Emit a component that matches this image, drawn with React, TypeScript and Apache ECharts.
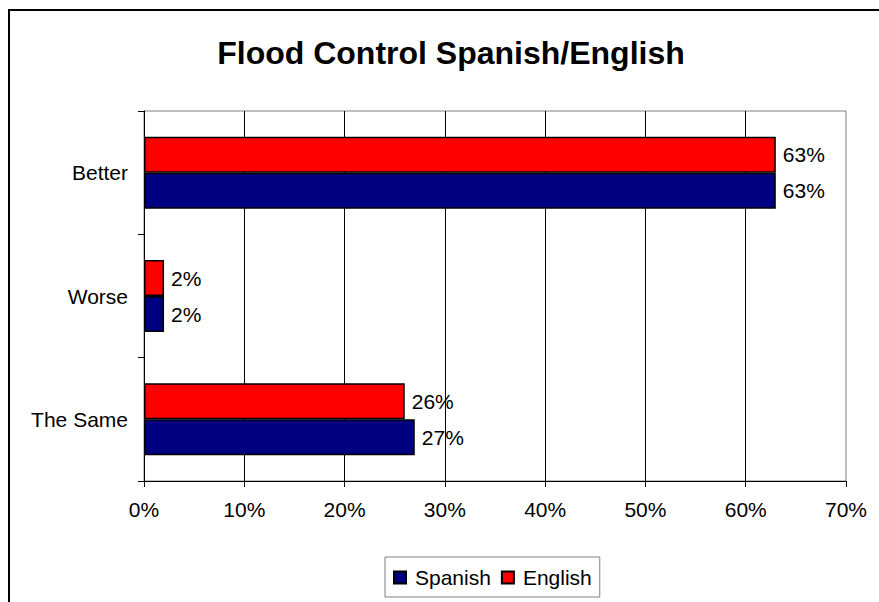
import React, { useEffect, useRef } from "react";
import * as echarts from "echarts";

const categories = ["Better", "Worse", "The Same"];
const spanishValues = [63, 2, 27];
const englishValues = [63, 2, 26];
const xTicks = [0, 10, 20, 30, 40, 50, 60, 70];

const FONT = "'Liberation Sans', Arial, sans-serif";

export default function App() {
  const ref = useRef<HTMLDivElement>(null);
  useEffect(() => {
    if (!ref.current) return;
    const chart = echarts.init(ref.current, null, { renderer: "svg" });
    const barStyle = (color: string) => ({
      color,
      borderColor: "#000",
      borderWidth: 1.5,
    });
    const labelStyle = {
      show: true,
      position: "right",
      distance: 7,
      formatter: "{c}%",
      fontFamily: FONT,
      fontSize: 21,
      color: "#000",
    };
    chart.setOption({
      animation: false,
      backgroundColor: "#fff",
      textStyle: { fontFamily: FONT, color: "#000" },
      title: {
        text: "Flood Control Spanish/English",
        left: 446,
        top: 32,
        textAlign: "center",
        textStyle: { fontFamily: FONT, fontSize: 32, fontWeight: "bold", color: "#000" },
      },
      graphic: [
        {
          type: "rect",
          shape: { x: 9, y: 10, width: 1000, height: 1000 },
          style: { fill: "none", stroke: "#000", lineWidth: 2 },
          silent: true,
        },
      ],
      legend: {
        data: ["Spanish", "English"],
        left: 385,
        top: 557,
        orient: "horizontal",
        itemWidth: 12,
        itemHeight: 12,
        itemGap: 10,
        borderColor: "#808080",
        borderWidth: 1,
        padding: [10, 8, 9, 8],
        icon: "rect",
        textStyle: { fontFamily: FONT, fontSize: 21, color: "#000", padding: [0, 0, 0, 4] },
      },
      grid: {
        left: 144,
        right: 33,
        top: 111,
        bottom: 121,
        show: true,
        borderColor: "#808080",
        borderWidth: 1,
        backgroundColor: "#fff",
      },
      xAxis: {
        type: "value",
        min: xTicks[0],
        max: xTicks[xTicks.length - 1],
        interval: 10,
        axisLine: { show: true, lineStyle: { color: "#000", width: 1 } },
        axisTick: { show: true, length: 6, lineStyle: { color: "#000" } },
        axisLabel: {
          formatter: "{value}%",
          fontFamily: FONT,
          fontSize: 21,
          color: "#000",
          margin: 18,
        },
        splitLine: { show: true, showMinLine: false, showMaxLine: false, lineStyle: { color: "#000", width: 1 } },
      },
      yAxis: {
        type: "category",
        inverse: true,
        data: categories,
        axisLine: { show: true, lineStyle: { color: "#000", width: 1 } },
        axisTick: { show: true, length: 6, alignWithLabel: false, lineStyle: { color: "#000" } },
        axisLabel: { fontFamily: FONT, fontSize: 21, color: "#000", margin: 16 },
        splitLine: { show: false },
      },
      series: [
        {
          name: "English",
          type: "bar",
          data: englishValues,
          barWidth: 36,
          barGap: "0%",
          itemStyle: barStyle("#ff0000"),
          label: labelStyle,
        },
        {
          name: "Spanish",
          type: "bar",
          data: spanishValues,
          barWidth: 36,
          barGap: "0%",
          itemStyle: barStyle("#000080"),
          label: labelStyle,
        },
      ],
    });
    return () => chart.dispose();
  }, []);
  return (
    <div
      ref={ref}
      style={{ position: "fixed", left: 0, top: 0, width: 879, height: 602 }}
    />
  );
}
